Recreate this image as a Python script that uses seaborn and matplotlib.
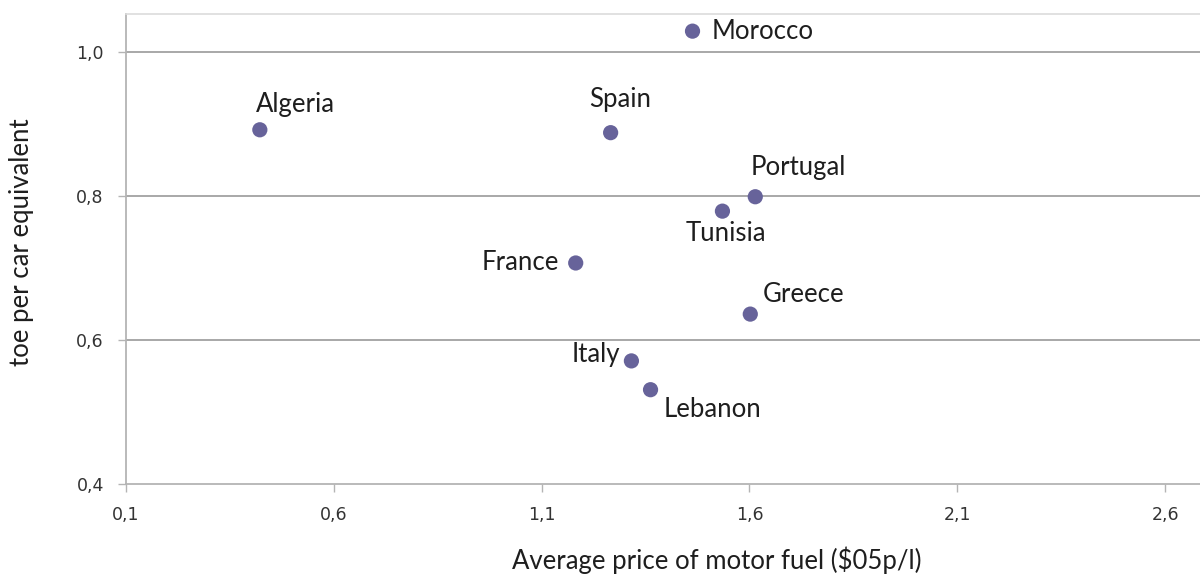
import matplotlib
matplotlib.use("Agg")
import matplotlib.pyplot as plt
import seaborn as sns
import pandas as pd

countries = ["Morocco", "Algeria", "Spain", "Portugal", "Tunisia",
             "France", "Greece", "Italy", "Lebanon"]
fuel_price = [1.463, 0.422, 1.266, 1.614, 1.535, 1.182, 1.602, 1.316, 1.362]
toe_per_car = [1.029, 0.892, 0.888, 0.799, 0.779, 0.707, 0.636, 0.571, 0.531]
x_ticks = [0.1, 0.6, 1.1, 1.6, 2.1, 2.6]
y_ticks = [0.4, 0.6, 0.8, 1.0]

# label placement: offset in pixels from the point, horizontal alignment
label_pos = {
    "Morocco": (19, 0, "left"),
    "Algeria": (-4, 25, "left"),
    "Spain": (10, 33, "center"),
    "Portugal": (-5, 29, "left"),
    "Tunisia": (3, -22, "center"),
    "France": (-17, 0, "right"),
    "Greece": (12, 20, "left"),
    "Italy": (-11, 6, "right"),
    "Lebanon": (13, -20, "left"),
}

df = pd.DataFrame({"country": countries, "price": fuel_price, "toe": toe_per_car})

sns.set_theme(style="white")
plt.rcParams["font.family"] = ["Lato", "DejaVu Sans"]

fig = plt.figure(figsize=(12, 5.84), dpi=100)
ax = fig.add_axes([0.105, 0.1712, 0.895, 0.8048])

sns.scatterplot(data=df, x="price", y="toe", ax=ax, color="#67639a",
                s=120, edgecolor="none", zorder=3)

for c, x, y in zip(countries, fuel_price, toe_per_car):
    dx, dy, ha = label_pos[c]
    ax.annotate(c, (x, y), xytext=(dx, dy), textcoords="offset pixels",
                ha=ha, va="center", fontsize=18.5, color="#1e1e1e", zorder=4)

ax.set_xlim(0.1, 2.684)
ax.set_ylim(0.4, 1.0528)
ax.set_xticks(x_ticks)
ax.set_yticks(y_ticks)
ax.set_xticklabels([f"{v:.1f}".replace(".", ",") for v in x_ticks])
ax.set_yticklabels([f"{v:.1f}".replace(".", ",") for v in y_ticks])
for lbl in ax.get_xticklabels() + ax.get_yticklabels():
    lbl.set_fontfamily("DejaVu Sans")
    lbl.set_fontsize(12.5)
    lbl.set_color("#333333")

for v in y_ticks[1:]:
    ax.axhline(v, color="#a8a8a8", lw=1.4, zorder=1)

for side in ["left", "bottom"]:
    ax.spines[side].set_color("#b4b4b4")
    ax.spines[side].set_linewidth(1.3)
ax.spines["top"].set_color("#dcdcdc")
ax.spines["top"].set_linewidth(1.2)
ax.spines["right"].set_visible(False)

ax.tick_params(axis="both", which="major", length=6, width=1,
               color="#b4b4b4", direction="out", left=True, bottom=True)
ax.tick_params(axis="x", pad=10)
ax.tick_params(axis="y", pad=10)

ax.set_xlabel("")
ax.set_ylabel("")
fig.text(0.5975, 0.041, r"Average price of motor fuel (\$05p/l)",
         ha="center", va="center", fontsize=18.5, color="#1e1e1e")
fig.text(0.0175, 0.586, "toe per car equivalent", rotation=90,
         ha="center", va="center", fontsize=18.5, color="#1e1e1e")

fig.savefig("out.png", dpi=100, facecolor="white")
